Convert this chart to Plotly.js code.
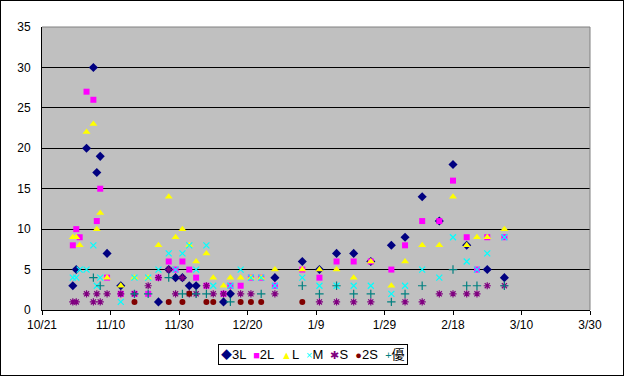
<!DOCTYPE html>
<html><head><meta charset="utf-8">
<script src="https://cdn.plot.ly/plotly-3.0.1.min.js"></script>
<style>html,body{margin:0;padding:0;background:#fff}#chart{width:624px;height:376px;box-sizing:border-box;border:1px solid #000}</style>
</head><body><div id="chart"></div>
<script>
const dates = ['2006-10-30','2006-10-31','2006-11-01','2006-11-03','2006-11-05','2006-11-06','2006-11-07','2006-11-09',
  '2006-11-13','2006-11-17','2006-11-21','2006-11-24','2006-11-27','2006-11-29','2006-12-01','2006-12-03','2006-12-05',
  '2006-12-08','2006-12-10','2006-12-13','2006-12-15','2006-12-18','2006-12-21','2006-12-24','2006-12-28',
  '2007-01-05','2007-01-10','2007-01-15','2007-01-20','2007-01-25','2007-01-31','2007-02-04','2007-02-09',
  '2007-02-14','2007-02-18','2007-02-22','2007-02-25','2007-02-28','2007-03-05'];
const s3L = [3,5,null,20,30,17,19,7, 3,null,null,1,5,4,4,3,3, null,null,1,2,null,null,null,4, 6,5,7,7,6,8,9,14, 11,18,8,null,5,4];
const s2L = [8,10,9,27,26,11,15,4, 2,2,2,4,6,5,6,5,4, 3,null,2,3,3,4,4,3, 5,4,6,6,6,5,8,11, 11,16,9,5,9,9];
const sL  = [9,9,8,22,23,10,12,4, 3,4,4,8,14,9,10,8,6, 7,4,3,4,4,4,4,5, 5,5,5,4,6,3,6,8, 8,14,8,9,9,10];
const sM  = [4,4,5,5,8,3,4,null, 1,4,4,5,7,5,7,8,5, 8,3,null,3,5,4,4,3, 4,3,3,3,3,2,3,5, 4,9,6,5,7,9];
const sS  = [1,1,null,2,1,2,1,2, 2,2,3,4,5,2,4,2,2, 3,2,2,null,2,2,null,2, null,1,1,1,1,null,1,1, 2,2,2,2,3,3];
const s2S = [null,null,null,null,null,null,null,null, null,1,null,null,1,null,1,2,null, 1,1,null,null,1,1,1,null, 1,null,null,null,null,null,null,null, null,null,null,null,null,null];
const sYu = [null,null,null,null,4,null,3,null, null,2,2,null,4,null,2,null,2, 2,null,null,1,null,null,2,null, 3,2,3,2,2,1,2,3, null,5,3,3,null,3];

const seriesNames = ['3L','2L','L','M','S','2S','優'];
const seriesValues = [s3L, s2L, sL, sM, sS, s2S, sYu];
const colors = ['#000080','#FF00FF','#FFFF00','#00FFFF','#800080','#800000','#008080'];
const symbols = ['diamond','square','triangle-up','x-thin-open','asterisk-open','circle','cross-thin-open'];
const sizes = [7,6,7,6,6,6,6];
const legendGlyphs = ['◆','■','▲','×','✱','●','+'];

const traces = seriesNames.map((n,i)=>{
  const open = symbols[i].indexOf('open')>=0;
  return {
    type:'scatter', mode:'markers', name:n, x:dates, y:seriesValues[i],
    marker:{symbol:symbols[i], size:sizes[i], color:colors[i],
      line: open ? {color:colors[i], width:1.2} : {width:0}},
    showlegend:false, hoverinfo:'x+y+name'
  };
});

const legendText = seriesNames.map((n,i)=>'<span style="color:'+colors[i]+';font-size:11px">'+legendGlyphs[i]+'</span>'+n).join('  ');

const font = 'Liberation Sans, Arial, Noto Sans CJK JP, sans-serif';
const layout = {
  width:622, height:374,
  margin:{l:41, r:33, t:26, b:65},
  paper_bgcolor:'#ffffff', plot_bgcolor:'#c0c0c0',
  font:{family:font, size:12, color:'#000'},
  xaxis:{type:'date', range:['2006-10-21','2007-03-30'], tick0:'2006-10-21', dtick:20*86400000,
    tickformat:'%-m/%-d', showgrid:false, zeroline:false, showline:true, linecolor:'#000', linewidth:1,
    ticks:'outside', ticklen:4, tickcolor:'#000', tickfont:{family:font,size:12}},
  yaxis:{range:[0,35], tick0:0, dtick:5, showgrid:true, gridcolor:'#000', gridwidth:1, zeroline:false,
    showline:true, linecolor:'#000', linewidth:1, ticks:'', ticklabelstandoff:8, tickfont:{family:font,size:12}},
  shapes:[
    {type:'line', xref:'paper', yref:'paper', x0:0, x1:1, y0:1, y1:1, line:{color:'#808080', width:1}},
    {type:'line', xref:'paper', yref:'paper', x0:1, x1:1, y0:0, y1:1, line:{color:'#808080', width:1}}
  ],
  annotations:[{xref:'paper', yref:'paper', x:0.4945, y:-0.159, xanchor:'center', yanchor:'middle',
    text:legendText, showarrow:false, bgcolor:'#ffffff', bordercolor:'#000', borderwidth:1, borderpad:2,
    font:{family:font, size:13, color:'#000'}}],
  showlegend:false
};
Plotly.newPlot('chart', traces, layout, {displayModeBar:false, staticPlot:true});
</script></body></html>
